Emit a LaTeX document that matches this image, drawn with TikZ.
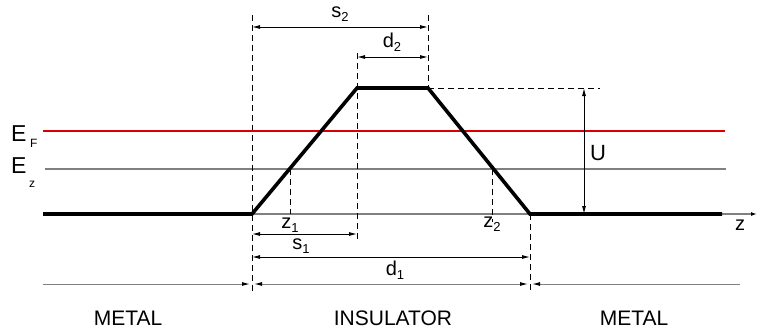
\documentclass[tikz,border=0pt]{standalone}
\usepackage{fontspec}
\setmainfont{Liberation Sans}
\usetikzlibrary{arrows.meta}
\newcommand\sbx[1]{\raisebox{-4pt}{\fontsize{13}{13}\selectfont #1}}
\begin{document}
\begin{tikzpicture}[x=1pt,y=-1pt,
  lab/.style={font=\fontsize{20}{24}\selectfont, inner sep=0pt},
  big/.style={font=\fontsize{21}{24}\selectfont, inner sep=0pt},
  tiny/.style={font=\fontsize{12}{12}\selectfont, inner sep=0pt},
  barrier/.style={line width=3.6pt, line join=miter, black},
  level/.style={line width=1.2pt, gray},
  fermi/.style={line width=2.8pt, red!85!black},
  guide/.style={line width=0.9pt, dash pattern=on 6pt off 4pt, black},
  dim/.style={line width=0.9pt, black, {Latex[length=8pt,width=4pt]}-{Latex[length=8pt,width=4pt]}},
  dimR/.style={line width=1pt, gray, -{Latex[length=8pt,width=4pt,black]}},
  dimLR/.style={line width=1pt, gray, {Latex[length=8pt,width=4pt,black]}-{Latex[length=8pt,width=4pt,black]}}
]
\useasboundingbox (0,0) rectangle (757,333);
% key points
\coordinate (L0) at (43,214);
\coordinate (A) at (252,214);
\coordinate (B) at (357,88);
\coordinate (C) at (428,88);
\coordinate (D) at (530,214);
\coordinate (R0) at (722,214);
% energy levels
\coordinate (EFl) at (43,131); \coordinate (EFr) at (725,131);
\coordinate (Ezl) at (45,169); \coordinate (Ezr) at (726,169);
\draw[level] (Ezl) -- (Ezr);
\coordinate (zl) at (43,214); \coordinate (zr) at (757,214);
\draw[level, -{Latex[length=6pt,width=4pt,black]}] (zl) -- (zr);
% dashed guides
\coordinate (gA1) at (252,15); \coordinate (gA2) at (252,292);
\coordinate (gB1) at (357,53); \coordinate (gB2) at (357,242);
\coordinate (gC1) at (428,15);
\coordinate (gD2) at (530,292);
\coordinate (gH) at (600,88);
\coordinate (z1a) at (290,169); \coordinate (z1b) at (290,214);
\coordinate (z2a) at (492,169); \coordinate (z2b) at (492,222);
\draw[guide] (gA1) -- (gA2);
\draw[guide] (gB1) -- (gB2);
\draw[guide] (gC1) -- (C);
\draw[guide] (D) -- (gD2);
\draw[guide] (C) -- (gH);
\draw[guide] (z1a) -- (z1b);
\draw[guide] (z2a) -- (z2b);
\draw[fermi] (EFl) -- (EFr);
\draw[barrier] (L0) -- (A) -- (B) -- (C) -- (D) -- (R0);
% dimension arrows
\coordinate (s2a) at (252,27); \coordinate (s2b) at (428,27);
\coordinate (d2a) at (357,57); \coordinate (d2b) at (428,57);
\coordinate (Ua) at (584,88); \coordinate (Ub) at (584,214);
\coordinate (s1a) at (252,234); \coordinate (s1b) at (357,234);
\coordinate (d1a) at (252,257); \coordinate (d1b) at (530,257);
\draw[dim] (s2a) -- (s2b);
\draw[dim] (d2a) -- (d2b);
\draw[dim] (Ua) -- (Ub);
\draw[dim] (s1a) -- (s1b);
\draw[dim] (d1a) -- (d1b);
% region boundary line
\coordinate (m1) at (43,284); \coordinate (m2) at (250,284);
\coordinate (m3) at (254,284); \coordinate (m4) at (528,284);
\coordinate (m5) at (532,284); \coordinate (m6) at (740,284);
\draw[dimR] (m1) -- (m2);
\draw[dimLR] (m3) -- (m4);
\draw[dimR] (m6) -- (m5);
% labels
\node[lab] (ls2) at (340,14) {s\sbx{2}};
\node[lab] (ld2) at (392,42) {d\sbx{2}};
\node[lab, font=\fontsize{22}{26}\selectfont] (lU) at (598,153) {U};
\node[lab] (lz1) at (290,225) {z\sbx{1}};
\node[lab] (lz2) at (492,224) {z\sbx{2}};
\node[lab] (ls1) at (301,246) {s\sbx{1}};
\node[lab] (ld1) at (395,270) {d\sbx{1}};
\node[lab] (lz) at (740,225) {z};
\node[font=\fontsize{23}{26}\selectfont, inner sep=0pt, anchor=base west] (lEF) at (11,141) {E};
\node[tiny, anchor=base west] (lEFs) at (30,147) {F};
\node[font=\fontsize{23}{26}\selectfont, inner sep=0pt, anchor=base west] (lEz) at (11,173) {E};
\node[tiny, anchor=base west] (lEzs) at (29,187) {z};
\node[big] (lM1) at (128,318) {METAL};
\node[big] (lI) at (393,318) {INSULATOR};
\node[big] (lM2) at (634,318) {METAL};
\end{tikzpicture}
\end{document}
